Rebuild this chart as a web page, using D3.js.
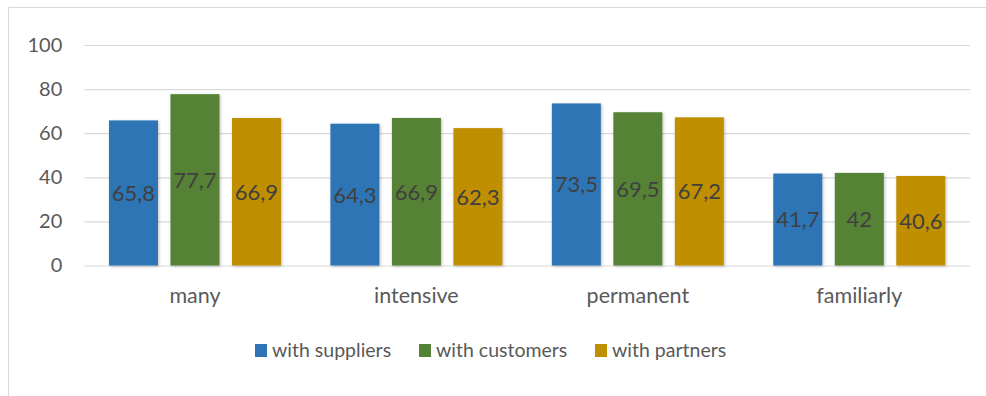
<!DOCTYPE html>
<html>
<head>
<meta charset="utf-8">
<script src="https://cdn.jsdelivr.net/npm/d3@7"></script>
<style>
  html, body { margin: 0; padding: 0; background: #fff; }
  svg { display: block; }
</style>
</head>
<body>
<svg id="chart" width="986" height="396"></svg>
<script>
// Categories and series
const categories = ["many", "intensive", "permanent", "familiarly"];
const seriesNames = ["with suppliers", "with customers", "with partners"];
const suppliers = [65.8, 64.3, 73.5, 41.7];
const customers = [77.7, 66.9, 69.5, 42];
const partners = [66.9, 62.3, 67.2, 40.6];
const seriesValues = [suppliers, customers, partners];
const yTicks = [0, 20, 40, 60, 80, 100];
const colors = ["#2E75B6", "#548235", "#BF8F00"];

const FONT = "Lato, 'Open Sans', sans-serif";
const svg = d3.select("#chart");

// Chart frame
svg.append("path")
  .attr("d", "M8.5,400 V7.5 H990")
  .attr("fill", "none")
  .attr("stroke", "#d9d9d9")
  .attr("stroke-width", 1);

const plot = { left: 84.25, right: 970, top: 45, bottom: 265.5 };

const x0 = d3.scaleBand().domain(categories).range([plot.left, plot.right]).padding(0);
const groupPad = (x0.bandwidth() - 172) / 2;
const x1 = d3.scaleBand().domain(seriesNames)
  .range([groupPad, x0.bandwidth() - groupPad])
  .paddingInner(0.203).paddingOuter(0);
const y = d3.scaleLinear().domain([0, 100]).range([plot.bottom, plot.top]);

// Soft shadow under the bars
const defs = svg.append("defs");
const f = defs.append("filter").attr("id", "shadow")
  .attr("x", "-20%").attr("y", "-20%").attr("width", "140%").attr("height", "140%");
f.append("feDropShadow").attr("dx", 1).attr("dy", 1).attr("stdDeviation", 1.5)
  .attr("flood-color", "#000").attr("flood-opacity", 0.25);

// Gridlines + y axis labels
const yAxis = d3.axisLeft(y).tickValues(yTicks)
  .tickSize(-(plot.right - plot.left)).tickPadding(22).tickFormat(d3.format("d"));
const gy = svg.append("g").attr("transform", `translate(${plot.left},0)`).call(yAxis);
gy.select(".domain").remove();
gy.selectAll(".tick line").attr("stroke", "#d9d9d9").attr("stroke-width", 1.2);
gy.selectAll(".tick text")
  .attr("fill", "#595959").attr("font-family", FONT).attr("font-size", 20);

// x axis (category labels)
const xAxis = d3.axisBottom(x0).tickSize(0).tickPadding(22);
const gx = svg.append("g").attr("transform", `translate(0,${plot.bottom})`).call(xAxis);
gx.select(".domain").remove();
gx.selectAll(".tick text")
  .attr("fill", "#595959").attr("font-family", FONT).attr("font-size", 21.5);

// Bars
const rows = categories.map((c, i) => ({
  cat: c,
  vals: seriesNames.map((s, j) => ({ series: s, idx: j, value: seriesValues[j][i] }))
}));

const groups = svg.append("g").selectAll("g").data(rows).join("g")
  .attr("transform", d => `translate(${x0(d.cat)},0)`);

groups.selectAll("rect").data(d => d.vals).join("rect")
  .attr("x", d => x1(d.series))
  .attr("y", d => y(d.value))
  .attr("width", x1.bandwidth())
  .attr("height", d => y(0) - y(d.value))
  .attr("fill", d => colors[d.idx])
  .attr("filter", "url(#shadow)");

// Value labels centred in the bars
groups.selectAll("text.val").data(d => d.vals).join("text")
  .attr("class", "val")
  .attr("x", d => x1(d.series) + x1.bandwidth() / 2)
  .attr("y", d => (y(d.value) + y(0)) / 2)
  .attr("dy", "0.36em")
  .attr("text-anchor", "middle")
  .attr("fill", "#404040")
  .attr("font-family", FONT)
  .attr("font-size", 22)
  .text(d => String(d.value).replace(".", ","));

// Legend
const legendX = [255, 419, 595];
const legend = svg.append("g").selectAll("g").data(seriesNames).join("g")
  .attr("transform", (d, i) => `translate(${legendX[i]},344)`);
legend.append("rect").attr("width", 12).attr("height", 13)
  .attr("fill", (d, i) => colors[i]);
legend.append("text").attr("x", 17).attr("y", 13)
  .attr("fill", "#595959").attr("font-family", FONT).attr("font-size", 19.5)
  .text(d => d);
</script>
</body>
</html>
